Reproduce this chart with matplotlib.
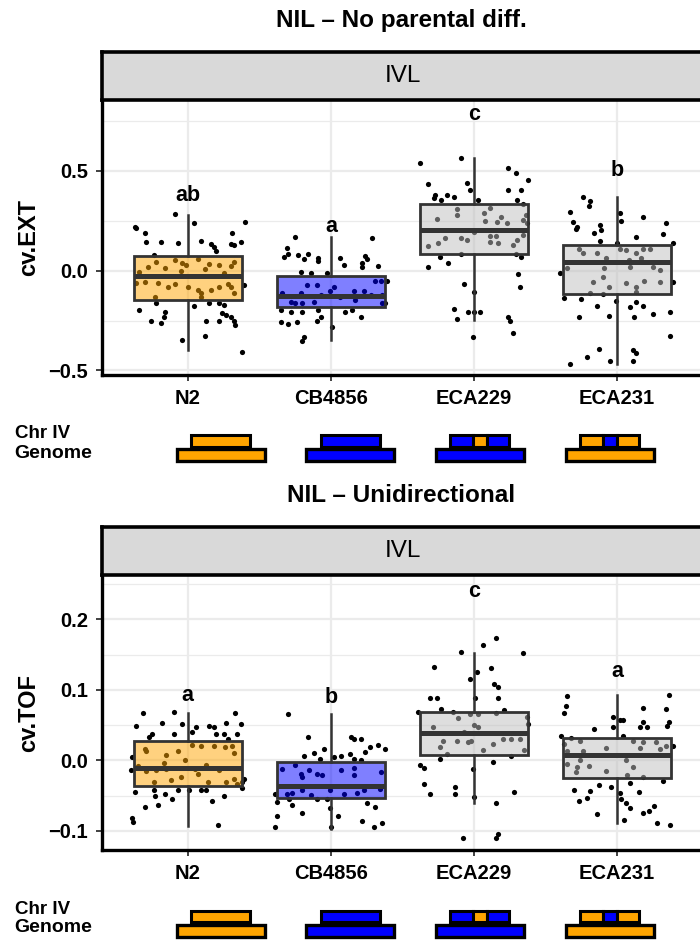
import matplotlib
matplotlib.use("Agg")
import matplotlib.pyplot as plt
from matplotlib.colors import to_rgba
from matplotlib.patches import Rectangle

plt.rcParams['font.family'] = ['Liberation Sans', 'DejaVu Sans']

# ---------------------------------------------------------------- data
strains = ["N2", "CB4856", "ECA229", "ECA231"]
box_fill = ["#FFA500", "#0000FF", "#BEBEBE", "#BEBEBE"]
genome_col = ["#FFA500", "#0000FF", "#0000FF", "#FFA500"]
chr_cols = [["#FFA500"], ["#0000FF"],
            ["#0000FF", "#FFA500", "#0000FF"],
            ["#FFA500", "#0000FF", "#FFA500"]]
chr_frac = [[1.0], [1.0], [0.38, 0.24, 0.38], [0.38, 0.24, 0.38]]

# box summaries: whislo, q1, med, q3, whishi
ext_stats = [(-0.40, -0.148, -0.025, 0.072, 0.28),
             (-0.345, -0.18, -0.128, -0.028, 0.168),
             (-0.245, 0.085, 0.205, 0.333, 0.563),
             (-0.467, -0.115, 0.043, 0.13, 0.368)]
tof_stats = [(-0.0925, -0.036, -0.010, 0.027, 0.068),
             (-0.0976, -0.0535, -0.0357, -0.002, 0.066),
             (-0.061, 0.008, 0.039, 0.069, 0.153),
             (-0.089, -0.025, 0.0075, 0.032, 0.0925)]

ext_letters = ["ab", "a", "c", "b"]
ext_letter_y = [0.351, 0.196, 0.755, 0.476]
tof_letters = ["a", "b", "c", "a"]
tof_letter_y = [0.0845, 0.082, 0.232, 0.119]

# jittered points: (x offset, value)
ext_n2 = [(-0.09, 0.282), (-0.37, 0.221), (-0.36, 0.216), (-0.30, 0.19), (0.04, 0.24),
          (0.40, 0.242), (0.31, 0.187), (-0.29, 0.145), (-0.19, 0.145), (-0.07, 0.14),
          (0.09, 0.15), (0.165, 0.134), (0.18, 0.117), (0.30, 0.134), (0.32, 0.127),
          (0.37, 0.142), (0.20, 0.10), (-0.24, 0.08),
          (-0.22, -0.16), (-0.34, -0.197), (-0.16, -0.205), (-0.17, -0.23), (-0.19, -0.26),
          (-0.26, -0.25), (0.04, -0.177), (0.15, -0.16), (0.22, -0.16), (0.25, -0.17),
          (0.24, -0.21), (0.27, -0.22), (0.30, -0.23), (0.33, -0.27), (0.32, -0.25),
          (0.13, -0.25), (0.22, -0.25), (-0.04, -0.347), (0.12, -0.328), (0.38, -0.406),
          (0.39, -0.07),
          (-0.22, 0.045), (-0.16, 0.015), (-0.09, 0.055), (-0.04, 0.04), (-0.01, 0.03),
          (0.07, 0.06), (0.15, 0.035), (0.22, 0.03), (0.30, 0.025), (0.32, 0.045),
          (-0.34, -0.005), (-0.30, -0.055), (-0.21, -0.06), (-0.14, -0.08), (-0.09, -0.065),
          (0.0, -0.08), (0.07, -0.095), (0.09, -0.11), (0.16, -0.095), (0.22, -0.08),
          (0.28, -0.065), (0.30, -0.08), (0.32, -0.11), (0.09, -0.13), (-0.23, -0.13),
          (-0.36, -0.06), (-0.05, 0.0), (0.12, 0.01), (-0.28, 0.02), (0.25, -0.01)]
ext_cb = [(-0.25, 0.167), (-0.31, 0.112), (-0.33, 0.07), (-0.30, 0.084), (-0.23, 0.078),
          (-0.16, 0.084), (-0.09, 0.062), (-0.09, 0.05), (-0.19, 0.057), (0.06, 0.062),
          (0.09, 0.03), (-0.21, -0.005), (-0.14, -0.01), (-0.03, -0.013),
          (-0.35, -0.197), (-0.28, -0.205), (-0.20, -0.205), (-0.09, -0.197), (0.10, -0.205),
          (-0.35, -0.255), (-0.30, -0.267), (-0.24, -0.255), (-0.10, -0.25), (0.01, -0.28),
          (-0.19, -0.33), (-0.20, -0.35), (-0.07, -0.23),
          (-0.34, -0.113), (-0.28, -0.155), (-0.21, -0.113), (-0.17, -0.07), (-0.10, -0.07),
          (-0.07, -0.12), (-0.01, -0.10), (0.02, -0.08), (0.06, -0.13), (-0.12, -0.155),
          (-0.25, -0.163), (-0.20, -0.16),
          (0.29, 0.162), (0.24, 0.073), (0.25, 0.057), (0.22, 0.037), (0.22, 0.017),
          (0.33, 0.024), (0.395, -0.05), (0.38, -0.16), (0.36, -0.164), (0.15, -0.197),
          (0.21, -0.233), (0.31, -0.05), (0.35, -0.05), (0.23, -0.10), (0.16, -0.10),
          (0.28, -0.12), (0.36, -0.12), (0.17, -0.145)]
ext_eca229 = [(-0.38, 0.541), (-0.09, 0.566), (0.24, 0.513), (0.29, 0.491), (0.38, 0.454),
              (-0.32, 0.433), (-0.05, 0.438), (-0.03, 0.404), (0.24, 0.404), (0.33, 0.404),
              (-0.27, 0.38), (-0.28, 0.366), (-0.23, 0.357), (-0.19, 0.38), (-0.14, 0.371),
              (0.03, 0.357), (0.30, 0.354), (0.34, 0.334),
              (-0.12, 0.307), (-0.26, 0.257), (-0.12, 0.279), (0.07, 0.288), (0.11, 0.313),
              (0.08, 0.25), (0.16, 0.246), (0.19, 0.267), (0.23, 0.24), (0.34, 0.254),
              (0.36, 0.279), (-0.32, 0.124), (-0.25, 0.137), (-0.20, 0.162), (-0.09, 0.162),
              (-0.05, 0.154), (0.0, 0.195), (0.11, 0.174), (0.15, 0.174), (0.11, 0.146),
              (0.17, 0.137), (0.27, 0.129), (0.30, 0.154), (0.34, 0.179), (0.37, 0.237),
              (-0.24, 0.07), (-0.32, 0.02), (-0.18, 0.04), (-0.09, 0.084), (0.29, 0.084),
              (0.33, 0.067), (0.31, -0.016), (0.32, -0.08), (-0.07, -0.068), (0.0, -0.105),
              (-0.14, -0.194), (-0.12, -0.242), (-0.04, -0.209), (0.0, -0.205), (0.04, -0.209),
              (0.24, -0.23), (0.25, -0.25), (0.27, -0.314), (-0.01, -0.334)]
ext_eca231 = [(-0.24, 0.371), (-0.19, 0.351), (-0.20, 0.324), (-0.33, 0.294), (-0.31, 0.242),
              (-0.28, 0.221), (-0.29, 0.207), (-0.12, 0.229), (-0.11, 0.204), (-0.16, 0.19),
              (-0.12, 0.148), (0.02, 0.287), (0.03, 0.249), (0.18, 0.267), (0.34, 0.24),
              (0.32, 0.184), (0.13, 0.167), (0.39, 0.137), (0.0, 0.137),
              (-0.27, 0.107), (-0.24, 0.087), (-0.14, 0.087), (-0.08, 0.065), (0.02, 0.107),
              (0.06, 0.104), (0.13, 0.087), (0.18, 0.107), (0.23, 0.107), (0.17, 0.065),
              (0.08, 0.054), (-0.35, 0.015), (-0.09, 0.012), (0.09, 0.02), (0.25, 0.02),
              (0.30, 0.004), (-0.10, -0.03), (-0.17, -0.055), (-0.06, -0.08), (0.06, -0.063),
              (0.13, -0.08), (0.19, -0.05), (0.30, -0.058), (0.13, -0.105), (-0.19, -0.11),
              (-0.40, -0.01), (0.39, -0.057),
              (-0.37, -0.139), (-0.25, -0.142), (-0.10, -0.117), (-0.01, -0.152), (-0.14, -0.175),
              (-0.27, -0.23), (-0.06, -0.227), (0.09, -0.18), (0.13, -0.159), (0.18, -0.177),
              (0.12, -0.23), (0.25, -0.217), (0.37, -0.209), (0.37, -0.328), (-0.13, -0.392),
              (-0.21, -0.431), (-0.33, -0.469), (-0.05, -0.453), (0.11, -0.397), (0.13, -0.411),
              (0.11, -0.451)]

tof_n2 = [(-0.31, 0.068), (-0.10, 0.069), (-0.36, 0.049), (-0.18, 0.053), (-0.04, 0.051),
          (0.06, 0.048), (0.15, 0.049), (0.18, 0.048), (0.27, 0.053), (0.33, 0.067),
          (0.37, 0.052), (0.03, 0.04), (-0.10, 0.037), (0.20, 0.038), (0.25, 0.038),
          (0.34, 0.038), (-0.27, 0.033), (-0.25, 0.037), (0.28, 0.031),
          (-0.30, 0.016), (-0.29, 0.013), (-0.15, 0.008), (-0.07, 0.013), (0.03, 0.022),
          (0.09, 0.02), (0.18, 0.02), (0.26, 0.019), (0.31, 0.021), (0.32, 0.01),
          (-0.35, -0.008), (-0.29, -0.015), (-0.22, -0.014), (-0.17, -0.003), (-0.15, -0.012),
          (-0.02, 0.001), (0.05, -0.012), (0.13, -0.006), (0.22, -0.013), (-0.24, -0.031),
          (-0.12, -0.028), (-0.05, -0.023), (0.07, -0.019), (0.14, -0.03), (0.27, -0.031),
          (0.32, -0.026), (0.34, -0.033),
          (0.39, -0.026), (0.38, -0.031), (0.38, -0.039), (-0.40, -0.013), (-0.39, 0.005),
          (-0.37, -0.045), (-0.24, -0.042), (-0.23, -0.05), (-0.16, -0.048), (-0.11, -0.055),
          (-0.07, -0.042), (0.01, -0.042), (0.09, -0.042), (0.13, -0.042), (0.17, -0.057),
          (0.25, -0.05), (-0.30, -0.066), (-0.21, -0.063), (-0.39, -0.081), (-0.38, -0.087),
          (0.21, -0.092)]
tof_cb = [(-0.30, 0.066), (-0.16, 0.033), (-0.19, 0.007), (-0.12, 0.010), (-0.05, 0.016),
          (0.02, 0.005), (0.07, 0.006), (0.13, 0.009), (-0.08, 0.002),
          (-0.34, -0.012), (-0.25, -0.006), (-0.21, -0.019), (-0.20, -0.023), (-0.15, -0.014),
          (-0.10, -0.019), (-0.06, -0.021), (0.07, -0.013), (-0.31, -0.047), (-0.27, -0.046),
          (-0.20, -0.042), (-0.14, -0.049), (-0.01, -0.042), (0.09, -0.047),
          (-0.39, -0.047), (-0.38, -0.059), (-0.29, -0.055), (-0.10, -0.055), (-0.03, -0.055),
          (-0.27, -0.063), (-0.20, -0.075), (-0.01, -0.068), (0.05, -0.079), (-0.38, -0.079),
          (-0.39, -0.095), (0.0, -0.094),
          (0.14, 0.033), (0.16, 0.031), (0.21, 0.031), (0.24, 0.012), (0.27, 0.019),
          (0.33, 0.022), (0.38, 0.016), (0.16, 0.002), (0.21, 0.001),
          (0.16, -0.01), (0.16, -0.021), (0.35, -0.016), (0.23, -0.042), (0.18, -0.046),
          (0.34, -0.041), (0.25, -0.06), (0.31, -0.066), (0.22, -0.086), (0.30, -0.094),
          (0.36, -0.089)]
tof_eca229 = [(0.15, 0.174), (0.06, 0.164), (-0.09, 0.154), (0.34, 0.152), (-0.28, 0.132),
              (0.02, 0.126), (0.12, 0.131), (-0.03, 0.115), (0.14, 0.108), (0.17, 0.104),
              (-0.31, 0.089), (-0.26, 0.088), (0.01, 0.089), (0.17, 0.089), (-0.23, 0.073),
              (-0.15, 0.069), (0.21, 0.072), (-0.39, 0.069),
              (-0.11, 0.06), (-0.03, 0.066), (0.03, 0.066), (0.15, 0.068), (-0.29, 0.047),
              (0.0, 0.05), (0.03, 0.048), (-0.07, 0.04), (-0.22, 0.027), (-0.12, 0.028),
              (-0.04, 0.026), (-0.02, 0.028), (0.13, 0.023), (0.20, 0.031), (0.26, 0.03),
              (0.32, 0.03), (-0.24, 0.019), (0.06, 0.015), (-0.19, 0.009), (0.35, 0.015),
              (0.38, 0.052), (0.37, 0.061),
              (-0.24, 0.002), (0.26, 0.006), (-0.38, -0.006), (-0.35, -0.01), (-0.01, -0.012),
              (0.13, -0.002), (-0.35, -0.034), (-0.31, -0.047), (-0.13, -0.038), (-0.13, -0.047),
              (0.0, -0.052), (0.28, -0.045), (0.15, -0.061), (-0.08, -0.11), (0.15, -0.11),
              (0.17, -0.105)]
tof_eca231 = [(-0.35, 0.092), (0.36, 0.093), (-0.36, 0.077), (-0.37, 0.068), (0.18, 0.074),
              (0.34, 0.073), (-0.03, 0.062), (0.02, 0.058), (0.04, 0.058), (0.18, 0.055),
              (0.21, 0.047), (-0.16, 0.044), (-0.03, 0.048), (0.36, 0.055), (0.35, 0.049),
              (0.16, 0.047), (-0.39, 0.035),
              (-0.32, 0.032), (-0.26, 0.028), (0.04, 0.034), (0.11, 0.028), (0.18, 0.026),
              (0.27, 0.026), (0.34, 0.021), (-0.37, 0.024), (-0.35, 0.013), (-0.24, 0.014),
              (-0.08, 0.017), (0.16, 0.017), (0.30, 0.016), (-0.26, 0.001), (-0.35, -0.005),
              (-0.28, -0.009), (-0.20, -0.008), (0.06, 0.0), (0.11, -0.009), (-0.29, -0.016),
              (-0.08, -0.015), (0.07, -0.021), (0.18, -0.023), (0.39, 0.020),
              (-0.13, -0.035), (-0.04, -0.038), (0.09, -0.032), (0.32, -0.029), (-0.30, -0.042),
              (-0.19, -0.044), (0.15, -0.045), (0.02, -0.046), (-0.21, -0.053), (-0.27, -0.057),
              (0.03, -0.055), (0.06, -0.06), (0.09, -0.068), (0.26, -0.065), (0.18, -0.074),
              (0.22, -0.071), (-0.14, -0.076), (0.05, -0.085), (0.28, -0.089), (0.37, -0.091)]

ext_points = [ext_n2, ext_cb, ext_eca229, ext_eca231]
tof_points = [tof_n2, tof_cb, tof_eca229, tof_eca231]

# ---------------------------------------------------------------- layout
W, H = 700, 942
fig = plt.figure(figsize=(W / 100, H / 100), dpi=100)
LEFT, RIGHT = 102, 703
EDGE = "#333333"


def fx(px):
    return px / W


def fy(py):
    return 1 - py / H


def draw_panel(dy, title, points, stats, letters, letter_y, ylim, yticks, yminor, ylabel):
    ''' one facet: title, grey strip, jitter + boxplot, genotype cartoon '''

    fig.text(fx(401), fy(21 + dy), title, ha="center", va="center",
             fontsize=17.5, fontweight="bold")

    # strip
    st = fig.add_axes([fx(LEFT), fy(100 + dy), fx(RIGHT) - fx(LEFT), fy(52 + dy) - fy(100 + dy)])
    st.set_facecolor("#D9D9D9")
    st.set_xticks([])
    st.set_yticks([])
    for s in st.spines.values():
        s.set_linewidth(2.6)
        s.set_color("black")
    st.text(0.5, 0.5, "IVL", transform=st.transAxes, ha="center", va="center", fontsize=17.5)

    ax = fig.add_axes([fx(LEFT), fy(375 + dy), fx(RIGHT) - fx(LEFT), fy(100 + dy) - fy(375 + dy)])
    ax.set_zorder(st.get_zorder() - 1)

    for i, pts in enumerate(points):
        xs = [i + 1 + p[0] for p in pts]
        ys = [p[1] for p in pts]
        ax.scatter(xs, ys, s=14, c="black", linewidths=0, zorder=2)

    bstats = []
    for lo, q1, med, q3, hi in stats:
        bstats.append(dict(whislo=lo, q1=q1, med=med, q3=q3, whishi=hi, fliers=[]))
    bp = ax.bxp(bstats, positions=[1, 2, 3, 4], widths=0.75, patch_artist=True,
                showfliers=False, showcaps=False,
                boxprops=dict(edgecolor=EDGE, linewidth=2.0),
                medianprops=dict(color=EDGE, linewidth=3.6, solid_capstyle="butt"),
                whiskerprops=dict(color=EDGE, linewidth=1.8))
    for patch, col in zip(bp["boxes"], box_fill):
        patch.set_facecolor(to_rgba(col, 0.5))
        patch.set_zorder(3)
    for ln in bp["medians"] + bp["whiskers"]:
        ln.set_zorder(4)

    for i, (lab, yv) in enumerate(zip(letters, letter_y)):
        ax.text(i + 1, yv, lab, ha="center", va="baseline", fontsize=15.5, fontweight="bold")

    ax.set_xlim(0.4, 4.6)
    ax.set_ylim(*ylim)
    ax.set_xticks([1, 2, 3, 4])
    ax.set_xticklabels(strains)
    ax.set_yticks(yticks)
    ax.set_yticklabels([("%.1f" % t).replace("-", "\u2212") for t in yticks])
    ax.set_yticks(yminor, minor=True)
    ax.grid(which="major", color="#EBEBEB", linewidth=1.6)
    ax.grid(which="minor", axis="y", color="#EBEBEB", linewidth=0.9)
    ax.set_axisbelow(True)
    ax.tick_params(which="major", length=4, width=1.3, color=EDGE, pad=6, labelsize=14.5)
    ax.tick_params(which="minor", length=0)
    for lab in ax.get_xticklabels() + ax.get_yticklabels():
        lab.set_fontweight("bold")
    ax.spines["top"].set_visible(False)
    ax.spines["right"].set_visible(False)
    for side in ["left", "bottom"]:
        ax.spines[side].set_linewidth(2.4)
        ax.spines[side].set_color("black")
    ax.set_ylabel(ylabel, fontsize=17, fontweight="bold", labelpad=6)

    # genotype cartoon (the two labels sit tight on top of each other, as in the original)
    fig.text(fx(15), fy(434 + dy), "Chr IV", ha="left", va="center", fontsize=13.5, fontweight="bold")
    fig.text(fx(14), fy(453 + dy), "Genome", ha="left", va="center", fontsize=14, fontweight="bold")
    for i in range(len(strains)):
        cx = 220.5 + 129.7 * i
        g = Rectangle((fx(cx - 44), fy(461.5 + dy)), fx(88), 12 / H, transform=fig.transFigure,
                      facecolor=genome_col[i], edgecolor="black", linewidth=2.4)
        fig.patches.append(g)
        x0 = cx - 29.5
        for col, fr in zip(chr_cols[i], chr_frac[i]):
            w = 59 * fr
            r = Rectangle((fx(x0), fy(447 + dy)), fx(w), 11.5 / H, transform=fig.transFigure,
                          facecolor=col, edgecolor="black", linewidth=2.2)
            fig.patches.append(r)
            x0 += w


draw_panel(0, "NIL \u2013 No parental diff.", ext_points, ext_stats, ext_letters, ext_letter_y,
           (-0.523, 0.856), [-0.5, 0.0, 0.5], [-0.25, 0.25, 0.75], "cv.EXT")
draw_panel(475, "NIL \u2013 Unidirectional", tof_points, tof_stats, tof_letters, tof_letter_y,
           (-0.127, 0.263), [-0.1, 0.0, 0.1, 0.2], [-0.05, 0.05, 0.15, 0.25], "cv.TOF")

fig.savefig("out.png", dpi=100)
